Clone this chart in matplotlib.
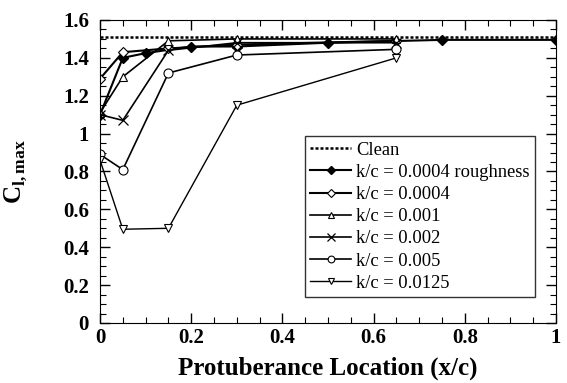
import matplotlib
matplotlib.use("Agg")
import matplotlib.pyplot as plt
from matplotlib.ticker import MultipleLocator

plt.rcParams['font.family'] = ['Liberation Serif', 'DejaVu Serif']
plt.rcParams['mathtext.fontset'] = 'custom'
plt.rcParams['mathtext.rm'] = 'Liberation Serif'
plt.rcParams['mathtext.bf'] = 'Liberation Serif:bold'

# data
clean_x = [0, 1]
clean_y = [1.51, 1.51]

rough_x = [0, 0.05, 0.1, 0.2, 0.3, 0.5, 0.75, 1.0]
rough_y = [1.10, 1.40, 1.425, 1.46, 1.46, 1.48, 1.495, 1.495]

loc_x = [0, 0.05, 0.15, 0.3, 0.65]
k0004_y = [1.29, 1.43, 1.45, 1.47, 1.49]
k001_y = [1.11, 1.30, 1.49, 1.50, 1.50]
k002_y = [1.10, 1.07, 1.44, 1.48, 1.48]
k005_y = [0.89, 0.81, 1.32, 1.415, 1.445]
k0125_y = [0.86, 0.495, 0.50, 1.15, 1.40]

fig = plt.figure(figsize=(5.67, 3.83), dpi=100)
ax = fig.add_axes([0.1764, 0.1567, 0.8042, 0.7911])

ax.plot(clean_x, clean_y, color='black', linestyle=(0, (1.2, 0.8)), linewidth=1.8, label='Clean')
ax.plot(rough_x, rough_y, color='black', marker='D', markersize=5, linewidth=1.5,
        markerfacecolor='black', label='k/c = 0.0004 roughness')
ax.plot(loc_x, k0004_y, color='black', marker='D', markersize=5, linewidth=1.5,
        markerfacecolor='white', markeredgewidth=0.8, label='k/c = 0.0004')
ax.plot(loc_x, k001_y, color='black', marker='^', markersize=6, linewidth=1.2,
        markerfacecolor='white', markeredgewidth=0.8, label='k/c = 0.001')
ax.plot(loc_x, k002_y, color='black', marker='x', markersize=7, linewidth=1.2,
        markeredgewidth=0.9, label='k/c = 0.002')
ax.plot(loc_x, k005_y, color='black', marker='o', markersize=6.5, linewidth=1.2,
        markerfacecolor='white', markeredgewidth=0.8, label='k/c = 0.005')
ax.plot(loc_x, k0125_y, color='black', marker='v', markersize=6, linewidth=1.0,
        markerfacecolor='white', markeredgewidth=0.8, label='k/c = 0.0125')

ax.set_xlim(0, 1)
ax.set_ylim(0, 1.6)
ax.xaxis.set_minor_locator(MultipleLocator(0.05))
ax.yaxis.set_minor_locator(MultipleLocator(0.05))
ax.set_xticks([0, 0.2, 0.4, 0.6, 0.8, 1.0])
ax.set_xticklabels(['0', '0.2', '0.4', '0.6', '0.8', '1'])
ax.set_yticks([0, 0.2, 0.4, 0.6, 0.8, 1.0, 1.2, 1.4, 1.6])
ax.set_yticklabels(['0', '0.2', '0.4', '0.6', '0.8', '1', '1.2', '1.4', '1.6'])
ax.tick_params(which='both', direction='in', top=True, right=True, labelsize=15)
ax.tick_params(which='major', length=7, width=1)
ax.tick_params(which='minor', length=4, width=0.8)
ax.tick_params(axis='y', pad=8)
for lab in ax.get_xticklabels() + ax.get_yticklabels():
    lab.set_fontweight('bold')

ax.set_xlabel('Protuberance Location (x/c)', fontsize=18, fontweight='bold', labelpad=6)
ax.set_ylabel(r'$\mathbf{C}_{\mathbf{l,max}}$', fontsize=18)
ax.yaxis.set_label_coords(-0.155, 0.5)

leg = ax.legend(loc='lower right', bbox_to_anchor=(0.955, 0.085), fontsize=13.3,
                frameon=True, fancybox=False, edgecolor='black', handlelength=2.2,
                borderpad=0.3, labelspacing=0.28, handletextpad=0.3, borderaxespad=0,
                markerscale=0.75)
leg.get_frame().set_linewidth(1.0)

fig.savefig('out.png', dpi=100)
